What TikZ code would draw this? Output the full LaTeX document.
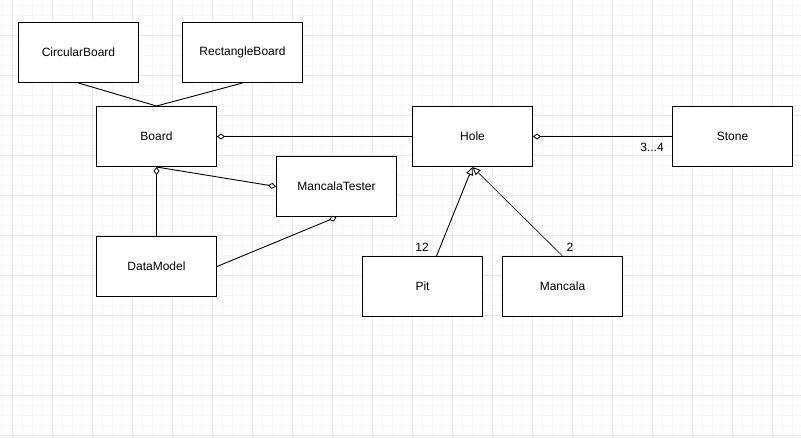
\documentclass[tikz,border=0pt]{standalone}
\usepackage{fontspec}
\setmainfont{Liberation Sans}
\usetikzlibrary{arrows.meta}
\definecolor{gridmajor}{HTML}{E6E6E6}
\definecolor{gridminor}{HTML}{F6F6F6}
\begin{document}
\begin{tikzpicture}[x=1pt,y=-1pt,
  cls/.style={draw=black, line width=1pt, fill=white, minimum width=120pt,
    minimum height=60pt, inner sep=0pt, anchor=north west,
    font=\fontsize{12}{14}\selectfont},
  lbl/.style={inner sep=0pt, font=\fontsize{12}{14}\selectfont},
  link/.style={line width=0.9pt},
  thinlink/.style={line width=0.6pt},
  dia/.tip={Diamond[open,length=8pt,width=6pt,line width=0.8pt]},
  gen/.tip={Triangle[open,length=8pt,width=7pt,line width=0.8pt]},
  gridmin/.style={draw=gridminor, line width=0.8pt},
  gridmaj/.style={draw=gridmajor, line width=1pt}
]
% canvas and background grid
\useasboundingbox (0,0) rectangle (801,437);
\fill[white] (0,0) rectangle (801,437);
\foreach \x in {2,12,...,802} \draw[gridmin] (\x,0) -- (\x,437);
\foreach \y in {5,15,...,435} \draw[gridmin] (0,\y) -- (801,\y);
\foreach \x in {12,52,...,812} \draw[gridmaj] (\x,0) -- (\x,437);
\foreach \y in {35,75,...,435} \draw[gridmaj] (0,\y) -- (801,\y);

% classes
\node[cls] (CircularBoard)  at (18,22)   {CircularBoard};
\node[cls] (RectangleBoard) at (182,22)  {RectangleBoard};
\node[cls] (Board)          at (96,106)  {Board};
\node[cls] (Hole)           at (412,106) {Hole};
\node[cls] (Stone)          at (672,106) {Stone};
\node[cls] (MancalaTester)  at (276,156) {MancalaTester};
\node[cls] (DataModel)      at (96,236)  {DataModel};
\node[cls] (Pit)            at (362,256) {Pit};
\node[cls] (Mancala)        at (502,256) {Mancala};

% plain associations
\draw[link] (CircularBoard.south) -- (Board.north);
\draw[link] (RectangleBoard.south) -- (Board.north);

% aggregations
\draw[link, dia-] (Board.east) -- (Hole.west);
\draw[link, dia-] (Board.south) -- (DataModel.north);
\draw[link, -dia] (Board.south) -- (MancalaTester.west);
\draw[link, -dia] (DataModel.east) -- (MancalaTester.south);
\draw[link, dia-] (Hole.east) -- (Stone.west);

% generalizations
\coordinate (pitTop) at ([xshift=14pt]Pit.north);
\draw[link, -gen] (pitTop) -- (Hole.south);
\draw[thinlink, -gen] (Mancala.north) -- (Hole.south);

% multiplicities
\node[lbl] (stoneMult)   at (652,147) {3...4};
\node[lbl] (pitMult)     at (422,247) {12};
\node[lbl] (mancalaMult) at (570,247) {2};
\end{tikzpicture}
\end{document}
